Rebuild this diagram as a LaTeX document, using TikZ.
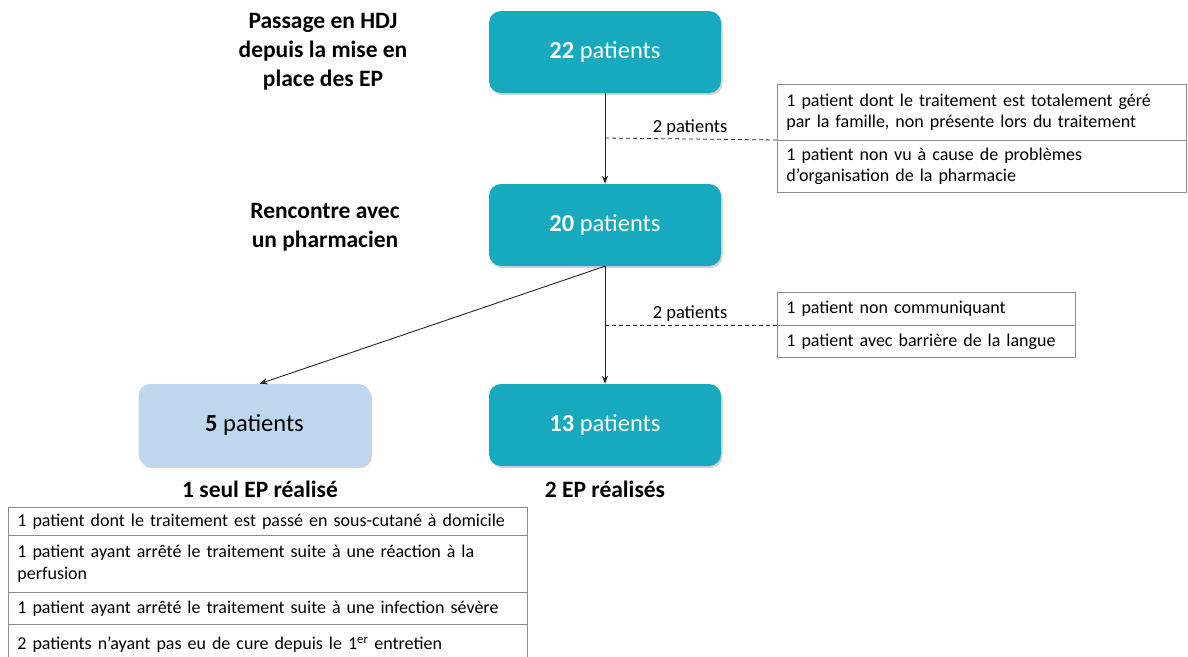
\documentclass[tikz,border=0pt]{standalone}
\usepackage{fontspec}
\setmainfont{Carlito}
\usetikzlibrary{shadows,arrows.meta}
\definecolor{tealbox}{HTML}{17A9BE}
\definecolor{lightbox}{HTML}{BDD7EE}
\definecolor{rule}{HTML}{8C8C8C}
\begin{document}
\begin{tikzpicture}[x=1pt,y=-1pt,
  pbox/.style={rectangle, rounded corners=12pt, minimum width=232pt, minimum height=82pt,
    fill=tealbox, text=white, font=\fontsize{24.5}{28}\selectfont,
    drop shadow={opacity=0.35, shadow xshift=1.5pt, shadow yshift=-2pt}},
  lbox/.style={pbox, fill=lightbox, text=black},
  head/.style={font=\fontsize{23.5}{29}\selectfont\bfseries, align=center},
  small/.style={font=\fontsize{18.5}{20}\selectfont},
  row/.style={draw=rule, line width=0.8pt, anchor=north west, align=left, inner xsep=9pt, inner ysep=0pt,
    font=\fontsize{18}{21.5}\selectfont},
  arr/.style={-{Stealth[length=8pt,width=6pt]}, line width=0.9pt, draw=black!85},
  dashline/.style={dashed, dash pattern=on 4pt off 3pt, line width=0.8pt, draw=black!85}
]
\useasboundingbox (0,0) rectangle (1188,656);

% main boxes
\node[pbox] (b22) at (605,52) {\textbf{22} patients};
\node[pbox] (b20) at (605,225) {\textbf{20} patients};
\node[pbox] (b13) at (605,425) {\textbf{13} patients};
\node[lbox] (b5) at (254.5,425) {\textbf{5} patients};

% headings
\node[head] (h1) at (323,52) {Passage en HDJ\\depuis la mise en\\place des EP};
\node[head] (h2) at (325,227) {Rencontre avec\\un pharmacien};
\node[head] (h3) at (260,489) {1 seul EP réalisé};
\node[head] (h4) at (605,489) {2 EP réalisés};

% right table 1
\node[row, text width=391pt, minimum height=56pt] (r1a) at (777,84)
  {1 patient dont le traitement est totalement géré\\par la famille, non présente lors du traitement};
\node[row, text width=391pt, minimum height=52pt] (r1b) at (777,140)
  {1 patient non vu à cause de problèmes\\d’organisation de la pharmacie};

% right table 2
\node[row, text width=280pt, minimum height=33pt] (r2a) at (777,292)
  {1 patient non communiquant};
\node[row, text width=280pt, minimum height=32pt] (r2b) at (777,325)
  {1 patient avec barrière de la langue};

% bottom table
\node[row, text width=501pt, minimum height=28pt] (t1) at (8,507)
  {1 patient dont le traitement est passé en sous-cutané à domicile};
\node[row, text width=501pt, minimum height=57pt] (t2) at (8,535)
  {1 patient ayant arrêté le traitement suite à une réaction à la\\perfusion};
\node[row, text width=501pt, minimum height=32pt] (t3) at (8,592)
  {1 patient ayant arrêté le traitement suite à une infection sévère};
\node[row, text width=501pt, minimum height=40pt] (t4) at (8,624)
  {2 patients n’ayant pas eu de cure depuis le 1\textsuperscript{er} entretien};

% connectors
\draw[arr] (b22.south) -- (b20.north);
\draw[arr] (b20.south) -- (b13.north);
\draw[arr] (b20.south) -- ([xshift=5pt]b5.north);

\coordinate (d1) at (605,138);
\coordinate (d2) at (605,325);
\draw[dashline] (d1) -- (r1b.north west);
\draw[dashline] (d2) -- (r2b.north west);
\node[small] (l1) at (690,128) {2 patients};
\node[small] (l2) at (690,314) {2 patients};
\end{tikzpicture}
\end{document}
